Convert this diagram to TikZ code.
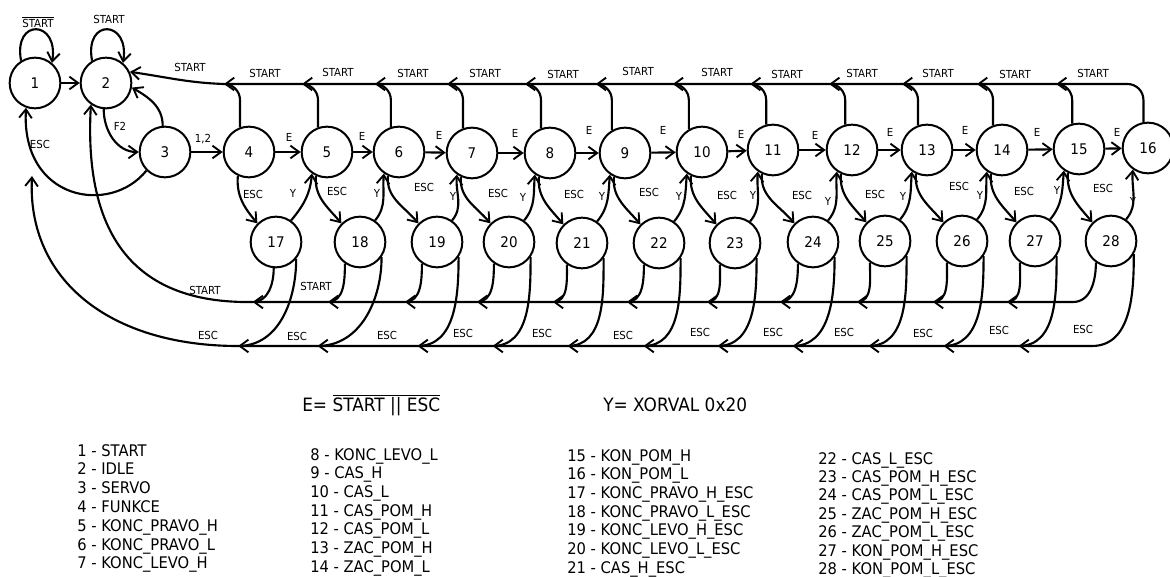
\documentclass[tikz,border=0pt]{standalone}
\usepackage{fontspec}
\setmainfont{DejaVu Sans}[FakeStretch=0.92]
\usetikzlibrary{arrows.meta,calc}
\begin{document}
\begin{tikzpicture}[x=0.75pt,y=0.75pt,
  st/.style={circle,draw,line width=1.5pt,minimum size=38pt,inner sep=0pt,font=\fontsize{11}{13}\selectfont},
  ln/.style={line width=1.6pt},
  arr/.style={ln,-{Straight Barb[length=6.5pt,width=9.5pt,line width=1.4pt]}},
  lab/.style={font=\fontsize{8.3}{10}\selectfont,inner sep=0pt},
  leg/.style={font=\fontsize{12}{14}\selectfont,inner sep=0pt,anchor=base west}]
\useasboundingbox (0,0) rectangle (1170,-577);

% states
\foreach \i/\x/\y in {1/35/83,2/106/83,3/165/152,4/249/152,5/327/152,6/399/152,7/472/153,8/550/153,9/625/153,10/702/152,11/773/150,12/852/150,13/927/150,14/1002/150,15/1079/149,16/1148/148,17/276/242,18/360/242,19/437/242,20/509/242,21/582/243,22/659/243,23/735/243,24/813/242,25/885/241,26/962/241,27/1035/241,28/1111/241}
  \node[st] (n\i) at (\x,-\y) {\i};

% self loops
\draw[arr] (n1.122) .. controls +(-8,43) and +(7,43) .. (n1.50);
\draw[arr] (n2.122) .. controls +(-8,43) and +(7,43) .. (n2.50);
\node[lab] (lo1) at (38,-22) {$\overline{\hbox{START}}$};
\node[lab] (lo2) at (109,-19) {START};

% left part
\draw[arr] (n1) -- (n2);
\draw[arr] (n2.265) to[out=-90,in=180] (n3);
\node[lab] (lf2) at (120,-126) {F2};
\draw[arr] (n3.95) to[out=90,in=-30] (n2.-10);
\draw[arr] (n3) -- (n4);
\node[lab] (l12) at (203,-139) {1,2};
\draw[arr] (n3.225) .. controls +(-36,-45) and +(-5,-93) .. (n1.250);
\node[lab] (lesc31) at (40,-144) {ESC};

% E chain
\foreach \k in {4,...,15}{
  \pgfmathtruncatemacro\kp{\k+1}
  \draw[arr] (n\k) -- (n\kp);
}
\foreach \k/\x/\y in {4/289/137,5/362/136,6/439/135,7/515/133,8/589/130,9/663/130,10/741/134,11/815/135,12/890/132,13/965/130,14/1037/132,15/1117/132}
  \node[lab] (le\k) at (\x,-\y) {E};

% top START bus
\foreach \k/\a in {4/110,5/110,6/108,7/110,8/110,9/120,10/120,11/105,12/105,13/110,14/110,15/105,16/100}
  \coordinate (t\k) at ($(n\k.\a |- 0,-84)+(-16,0)$);
\foreach \k/\a in {5/110,6/108,7/110,8/110,9/120,10/120,11/105,12/105,13/110,14/110,15/105,16/100}{
  \pgfmathtruncatemacro\km{\k-1}
  \draw[arr] (n\k.\a) -- (n\k.\a |- 0,-100) to[out=90,in=0] (t\k) -- (t\km);
}
\draw[arr] (n4.110) -- (n4.110 |- 0,-100) to[out=90,in=0] (t4) to[out=178,in=-8] (n2.25);
\foreach \k/\x/\y in {4/190/67,5/265/73,6/338/72,7/413/73,8/485/73,9/563/74,10/638/71,11/717/72,12/787/74,13/862/73,14/938/73,15/1015/74,16/1093/73}
  \node[lab] (ls\k) at (\x,-\y) {START};

% ESC down, Y up
\foreach \k in {4,...,15}{
  \pgfmathtruncatemacro\j{\k+13}
  \pgfmathtruncatemacro\kp{\k+1}
  \draw[arr] (n\k.245) to[out=-95,in=130] (n\j.135);
  \draw[arr] (n\j.55) to[out=50,in=-95] (n\kp.235);
}
\foreach \k/\x/\y in {4/253/194,5/337/191,6/424/187,7/498/193,8/574/194,9/649/192,10/727/195,11/802/195,12/875/194,13/959/186,14/1024/191,15/1103/188}
  \node[lab] (lme\k) at (\x,-\y) {ESC};
\foreach \k/\x/\y in {17/293/193,18/377/193,19/453/196,20/523/197,21/602/196,22/679/196,23/753/195,24/828/201,25/903/196,26/980/195,27/1057/190,28/1133/201}
  \node[lab] (lmy\k) at (\x,-\y) {Y};

% bottom buses
\def\botlist{17/265/-21/320/-58,18/235/-17/325/-64,19/235/-17/325/-41,20/235/-17/325/-38,21/235/-14/325/-36,22/235/-17/325/-37,23/235/-13/325/-39,24/235/-18/325/-42,25/235/-13/325/-38,26/235/-14/325/-40,27/235/-13/325/-38,28/235/-23/330/-42}
\foreach \j/\sa/\so/\ea/\eo in \botlist{
  \coordinate (s\j) at ($(n\j.\sa |- 0,-302)+(\so,0)$);
  \coordinate (e\j) at ($(n\j.\ea |- 0,-346)+(\eo,0)$);
}
\foreach \j/\sa/\so/\ea/\eo in \botlist{
  \ifnum\j>17
    \pgfmathtruncatemacro\jm{\j-1}
    \draw[arr] (n\j.\sa) to[out=-90,in=0] (s\j) -- (s\jm);
    \draw[arr] (n\j.\ea) to[out=-90,in=0] (e\j) -- (e\jm);
  \fi
}
\coordinate (e0) at (32,-176);
\draw[arr] (n17.265) to[out=-90,in=0] (s17) .. controls (130,-304) and (84,-230) .. (n2.235);
\draw[arr] (n17.320) to[out=-90,in=0] (e17) .. controls (110,-346) and (27,-280) .. (e0);
\node[lab] (lbs1) at (205,-290) {START};
\node[lab] (lbs2) at (316,-286) {START};
\foreach \k/\x/\y in {17/208/335,18/297/336,19/387/335,20/463/333,21/542/333,22/623/335,23/700/332,24/773/332,25/844/332,26/923/333,27/999/330,28/1083/329}
  \node[lab] (lbe\k) at (\x,-\y) {ESC};

% formulas
\node[leg,font=\fontsize{13.8}{16}\selectfont] (fe) at (302,-411) {E= $\overline{\hbox{START || ESC}}$};
\node[leg,font=\fontsize{13.8}{16}\selectfont] (fy) at (603,-411) {Y= XORVAL 0x20};

% legend
\foreach \i/\t [count=\c from 0] in {1/START,2/IDLE,3/SERVO,4/FUNKCE,5/KONC\_PRAVO\_H,6/KONC\_PRAVO\_L,7/KONC\_LEVO\_H}
  \node[leg] (g\i) at (77,{-456-18.8*\c}) {\i\ - \t};
\foreach \i/\t [count=\c from 0] in {8/KONC\_LEVO\_L,9/CAS\_H,10/CAS\_L,11/CAS\_POM\_H,12/CAS\_POM\_L,13/ZAC\_POM\_H,14/ZAC\_POM\_L}
  \node[leg] (g\i) at (310,{-460-18.7*\c}) {\i\ - \t};
\foreach \i/\t [count=\c from 0] in {15/KON\_POM\_H,16/KON\_POM\_L,17/KONC\_PRAVO\_H\_ESC,18/KONC\_PRAVO\_L\_ESC,19/KONC\_LEVO\_H\_ESC,20/KONC\_LEVO\_L\_ESC,21/CAS\_H\_ESC}
  \node[leg] (g\i) at (567,{-461-18.7*\c}) {\i\ - \t};
\foreach \i/\t [count=\c from 0] in {22/CAS\_L\_ESC,23/CAS\_POM\_H\_ESC,24/CAS\_POM\_L\_ESC,25/ZAC\_POM\_H\_ESC,26/ZAC\_POM\_L\_ESC,27/KON\_POM\_H\_ESC,28/KON\_POM\_L\_ESC}
  \node[leg] (g\i) at (818,{-464-18.4*\c}) {\i\ - \t};
\end{tikzpicture}
\end{document}
